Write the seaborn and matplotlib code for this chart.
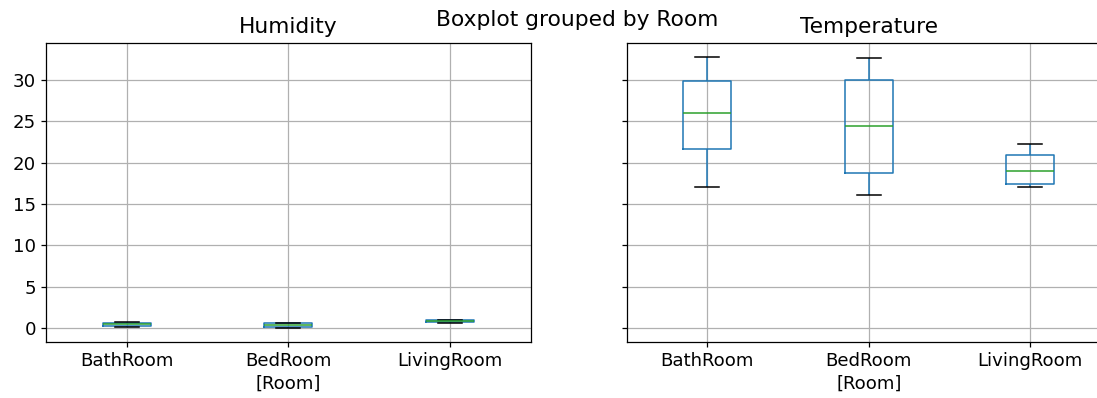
import numpy as np
import pandas as pd
import matplotlib
matplotlib.use("Agg")
import matplotlib.pyplot as plt
import seaborn as sns

# Readings per room (five samples each)
rooms = ["BathRoom", "BedRoom", "LivingRoom"]
humidity_bath = [0.15, 0.30, 0.45, 0.60, 0.70]
humidity_bed = [0.05, 0.10, 0.35, 0.60, 0.65]
humidity_living = [0.65, 0.75, 0.90, 0.95, 1.00]
temperature_bath = [17.0, 21.6, 26.0, 29.9, 32.8]
temperature_bed = [16.1, 18.7, 24.4, 30.0, 32.6]
temperature_living = [17.0, 17.4, 19.0, 20.9, 22.2]

df = pd.DataFrame({
    "Room": np.repeat(rooms, 5),
    "Humidity": humidity_bath + humidity_bed + humidity_living,
    "Temperature": temperature_bath + temperature_bed + temperature_living,
})

plt.rcParams["font.size"] = 13.1
plt.rcParams["font.family"] = ["DejaVu Sans"]
plt.rcParams["axes.linewidth"] = 0.9
plt.rcParams["xtick.major.width"] = 0.9
plt.rcParams["ytick.major.width"] = 0.9
plt.rcParams["xtick.major.size"] = 3.8
plt.rcParams["ytick.major.size"] = 3.8

fig = plt.figure(figsize=(10.97, 3.98), dpi=100)
ax1 = fig.add_axes([46 / 1097, 56 / 398, 484.5 / 1097, 299 / 398])
ax2 = fig.add_axes([626.5 / 1097, 56 / 398, 484.5 / 1097, 299 / 398], sharey=ax1)

lw = 1.1
box_kw = dict(
    width=0.3,
    fill=False,
    color="#1f77b4",
    linewidth=lw,
    showfliers=False,
    medianprops=dict(color="#2ca02c", linewidth=lw),
    capprops=dict(color="black", linewidth=lw),
    whiskerprops=dict(color="#1f77b4", linewidth=lw),
    boxprops=dict(color="#1f77b4", linewidth=lw),
)

for ax, col in [(ax1, "Humidity"), (ax2, "Temperature")]:
    sns.boxplot(data=df, x="Room", y=col, order=rooms, ax=ax, **box_kw)
    ax.set_title(col, fontsize=15.7, pad=7)
    ax.set_xlabel("[Room]", labelpad=3)
    ax.set_ylabel("")
    ax.grid(True, color="#b0b0b0", linewidth=0.9)
    ax.set_axisbelow(True)
    ax.set_xlim(-0.5, 2.5)

ax1.set_yticks([0, 5, 10, 15, 20, 25, 30])
ax1.set_ylim(-1.69, 34.47)
plt.setp(ax2.get_yticklabels(), visible=False)

fig.suptitle("Boxplot grouped by Room", x=577 / 1097, y=1 - 20 / 398,
             va="center", fontsize=15.7)

fig.savefig("out.png", dpi=100)
